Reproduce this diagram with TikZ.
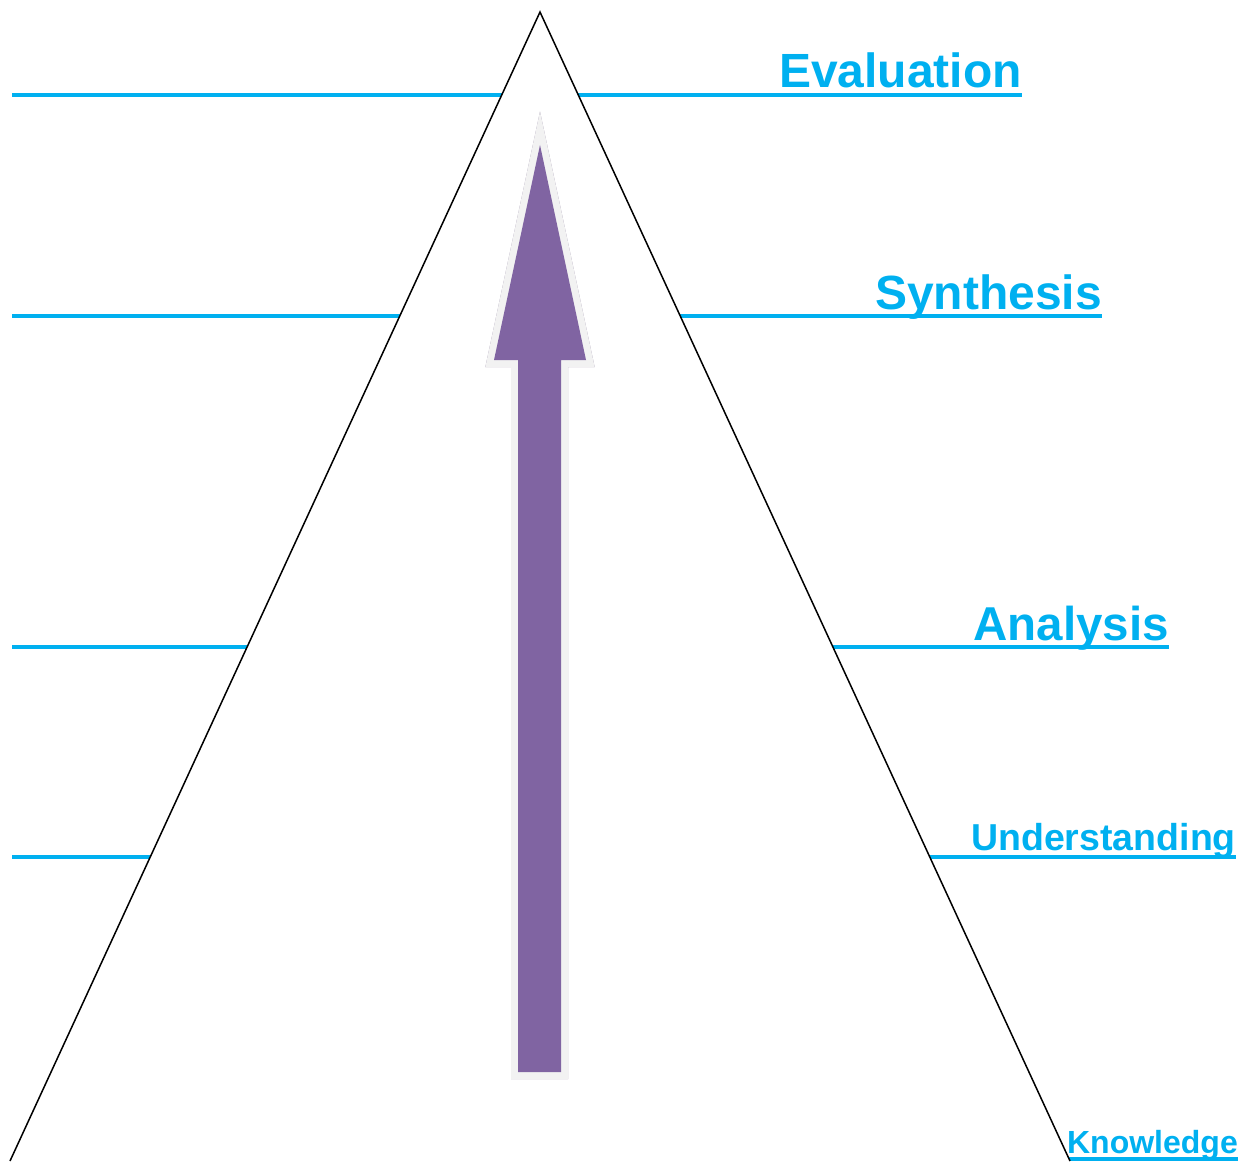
\documentclass[tikz,border=0pt]{standalone}
\usepackage{fontspec}
\setmainfont{Liberation Sans}
\definecolor{levelblue}{HTML}{00B0F0}
\definecolor{arrowpurple}{HTML}{8064A2}
\definecolor{rimgrey}{HTML}{F2F2F2}
\definecolor{shadowgrey}{HTML}{988CA8}
\begin{document}
\begin{tikzpicture}[x=1pt,y=-1pt,
  level/.style={levelblue,line width=4.5pt},
  lbl/.style={anchor=base east,inner sep=0pt,text=levelblue,font=\bfseries\fontsize{#1}{#1}\selectfont}]
  \useasboundingbox (0,0) rectangle (1249,1161);
  % Nivaalinjer
  \draw[level] (12,95) -- (1022,95);
  \draw[level] (12,316) -- (1102,316);
  \draw[level] (12,647) -- (1169,647);
  \draw[level] (12,857) -- (1236,857);
  \draw[level] (1069,1159) -- (1238,1159);
  % Pyramide
  \filldraw[fill=white,line width=1.5pt,line join=miter]
    (10,1161) -- (540,12) -- (1070,1161);
  % Etiketter
  \node[lbl=48] (eval) at (1022,88) {Evaluation};
  \node[lbl=48] (synth) at (1102,309) {Synthesis};
  \node[lbl=47.5] (anal) at (1169,640) {Analysis};
  \node[lbl=37.5] (under) at (1236,850) {Understanding};
  \node[lbl=32] (know) at (1238,1153) {Knowledge};
  % Pil opp
  \path[save path=\arrowpath] (540,145) -- (586,360) -- (561,360) -- (561,1072)
    -- (518,1072) -- (518,360) -- (494,360) -- cycle;
  \begin{scope}[shift={(3,4)}]
    \draw[shadowgrey,line width=14pt,line join=miter,use path=\arrowpath];
  \end{scope}
  \draw[rimgrey,line width=14pt,line join=miter,use path=\arrowpath];
  \fill[arrowpurple,use path=\arrowpath];
\end{tikzpicture}
\end{document}
